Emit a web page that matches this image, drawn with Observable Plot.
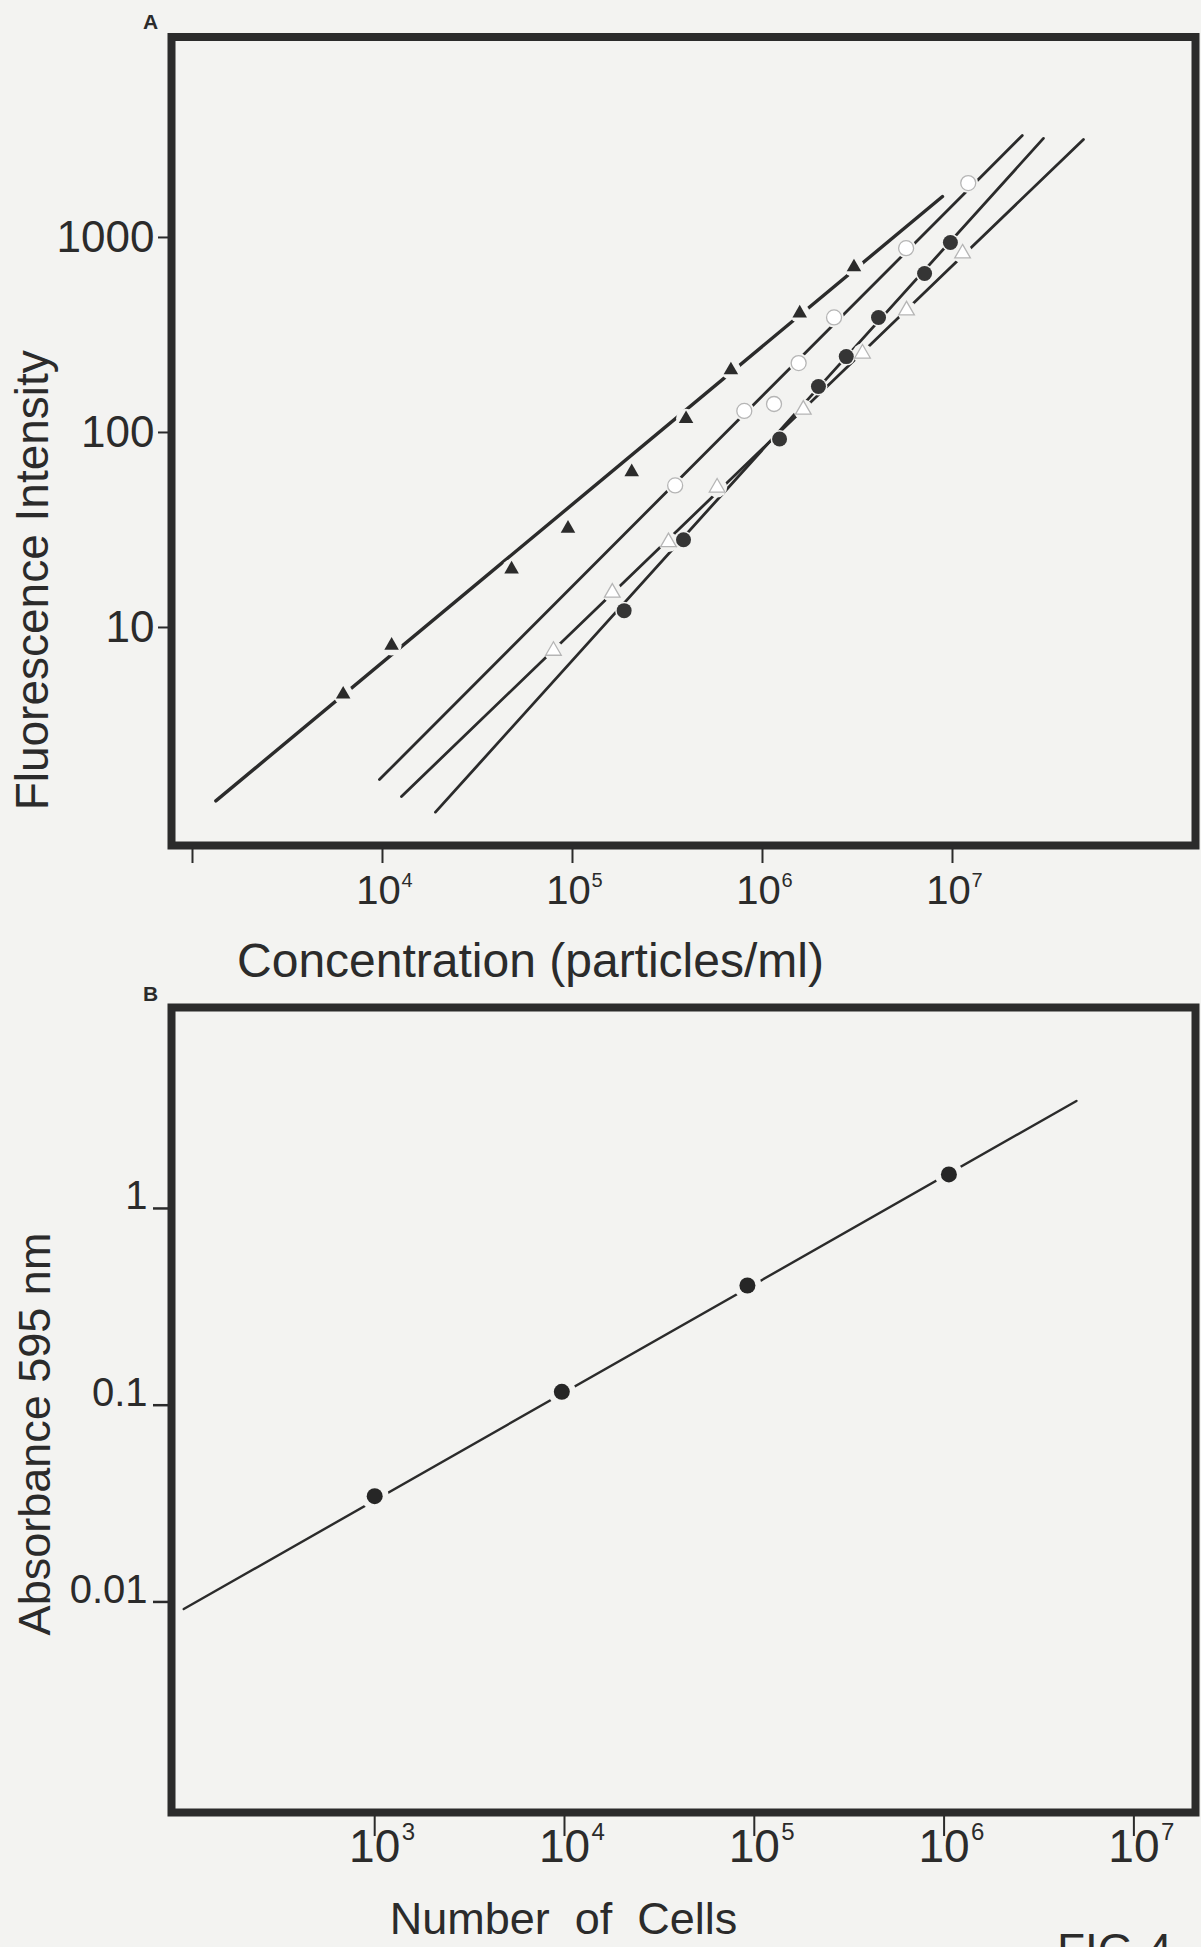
<!DOCTYPE html>
<html><head><meta charset="utf-8">
<script src="https://cdn.jsdelivr.net/npm/d3@7"></script>
<script src="https://cdn.jsdelivr.net/npm/@observablehq/plot@0.6"></script>
<style>
html,body{margin:0;padding:0;background:#f3f3f1;}
#wrap{position:relative;width:1201px;height:1947px;overflow:hidden;}
#a,#b{position:absolute;left:0;}
#a{top:0px;}
#b{top:960px;}
svg{display:block;}
</style></head><body><div id="wrap"><div id="a"></div><div id="b"></div></div>
<script>
const FONT = "'Liberation Sans', Arial, Helvetica, sans-serif";
const INK = "#2b2b2b";
const BG = "#f3f3f1";

// ---------- Panel A data (concentration vs fluorescence) ----------
const triX = [6210, 11170, 47800, 94700, 205000, 396000, 682000, 1570000, 3030000];
const triY = [4.54, 8.09, 19.9, 32.2, 62.7, 117.5, 209, 409, 705];
const openCircX = [347000, 802000, 1150000, 1550000, 2380000, 5700000, 12100000];
const openCircY = [53.5, 129, 140, 227, 389, 881, 1900];
const fillCircX = [187000, 384000, 1230000, 1970000, 2760000, 4080000, 7130000, 9750000];
const fillCircY = [12.2, 28.2, 92.6, 172, 245, 389, 653, 943];
const openTriX = [79400, 162000, 320000, 577000, 1640000, 3360000, 5730000, 11300000];
const openTriY = [7.6, 15.1, 27.4, 52.2, 131, 254, 423, 828];
// fitted lines (start, end)
const fitTriX = [1327, 8860000], fitTriY = [1.29, 1622];
const fitOpenCircX = [9640, 23300000], fitOpenCircY = [1.66, 3334];
const fitOpenTriX = [12590, 48900000], fitOpenTriY = [1.36, 3184];
const fitFillCircX = [19000, 30100000], fitFillCircY = [1.13, 3222];

const xTicksA = [1e3, 1e4, 1e5, 1e6, 1e7];
const xLabelsA = [1e4, 1e5, 1e6, 1e7];
const yTicksA = [10, 100, 1000];
const yTickLabelsA = ["10", "100", "1000"];

// ---------- Panel B data (cells vs absorbance) ----------
const cellsX = [1000, 9680, 92000, 1060000];
const absY = [0.0345, 0.117, 0.406, 1.49];
const fitCellsX = [98.6, 4980000], fitAbsY = [0.0092, 3.52];

const xTicksB = [1e3, 1e4, 1e5, 1e6, 1e7];
const yTicksB = [0.01, 0.1, 1];
const yTickLabelsB = ["0.01", "0.1", "1"];

const exp10 = d => String(Math.round(Math.log10(d)));
const n = a => ({length: a.length});

// ---------- Panel A ----------
const hA = 1000;
const frameA = {top: 36.5, bottom: 845, left: 171, right: 1195};
const plotA = Plot.plot({
  width: 1201, height: hA,
  marginTop: frameA.top, marginBottom: hA - frameA.bottom,
  marginLeft: frameA.left, marginRight: 1201 - frameA.right,
  style: {background: "transparent", fontFamily: FONT, color: INK},
  x: {type: "log", domain: [10 ** 2.8895, 10 ** 8.279], axis: null},
  y: {type: "log", domain: [10 ** -0.118, 10 ** 4.028], axis: null},
  marks: [
    Plot.axisX(xTicksA, {anchor: "bottom", tickSize: 18, stroke: INK, strokeWidth: 2, fill: "none", label: null}),
    Plot.axisY(yTicksA, {anchor: "left", tickSize: 13, stroke: INK, strokeWidth: 2, fill: "none", label: null}),
    Plot.line(n(fitTriX), {x: fitTriX, y: fitTriY, stroke: INK, strokeWidth: 3.4}),
    Plot.line(n(fitOpenCircX), {x: fitOpenCircX, y: fitOpenCircY, stroke: INK, strokeWidth: 2.8}),
    Plot.line(n(fitOpenTriX), {x: fitOpenTriX, y: fitOpenTriY, stroke: INK, strokeWidth: 2.8}),
    Plot.line(n(fitFillCircX), {x: fitFillCircX, y: fitFillCircY, stroke: INK, strokeWidth: 2.8}),
    // gaps in the lines around the symbols
    Plot.dot(n(triX), {x: triX, y: triY, r: 10, fill: BG}),
    Plot.dot(n(openCircX), {x: openCircX, y: openCircY, r: 10, fill: BG}),
    Plot.dot(n(openTriX), {x: openTriX, y: openTriY, r: 10, fill: BG}),
    Plot.dot(n(fillCircX), {x: fillCircX, y: fillCircY, r: 9, fill: BG}),
    // symbols
    Plot.dot(n(triX), {x: triX, y: triY, symbol: "triangle", r: 5.4, fill: INK}),
    Plot.dot(n(openCircX), {x: openCircX, y: openCircY, symbol: "circle", r: 7.5, fill: "#ffffff", stroke: "#b5b5b5", strokeWidth: 1.3}),
    Plot.dot(n(openTriX), {x: openTriX, y: openTriY, symbol: "triangle", r: 5.8, fill: "#ffffff", stroke: "#b5b5b5", strokeWidth: 1.3}),
    Plot.dot(n(fillCircX), {x: fillCircX, y: fillCircY, symbol: "circle", r: 7.5, fill: "#353535"}),
    Plot.frame({stroke: INK, strokeWidth: 8}),
    // tick labels
    Plot.text(yTicksA, {y: d => d, text: yTickLabelsA, frameAnchor: "left", dx: -17, textAnchor: "end", lineAnchor: "middle", fontSize: 44, fill: INK}),
    Plot.text(xLabelsA, {x: d => d, text: () => "10", frameAnchor: "bottom", dx: -4, dy: 30, textAnchor: "middle", lineAnchor: "top", fontSize: 40, fill: INK}),
    Plot.text(xLabelsA, {x: d => d, text: exp10, frameAnchor: "bottom", dx: 19, dy: 27, lineAnchor: "top", textAnchor: "start", fontSize: 20, fill: INK}),
    // titles
    Plot.text(["Concentration (particles/ml)"], {frameAnchor: "bottom", dx: -153, dy: 97, textAnchor: "middle", lineAnchor: "top", fontSize: 48, fill: INK}),
    Plot.text(["Fluorescence Intensity"], {frameAnchor: "left", rotate: -90, dx: -138, dy: 139, textAnchor: "middle", lineAnchor: "middle", fontSize: 46, fill: INK}),
    Plot.text(["A"], {frameAnchor: "top-left", dx: -21, dy: -14.5, textAnchor: "middle", lineAnchor: "middle", fontSize: 21, fontWeight: "bold", fill: INK})
  ]
});
document.getElementById("a").appendChild(plotA);

// ---------- Panel B ----------
const topB = 960, hB = 1947 - topB;
const frameB = {top: 1007 - topB, bottom: 1812 - topB, left: 171, right: 1195};
const plotB = Plot.plot({
  width: 1201, height: hB,
  marginTop: frameB.top, marginBottom: hB - frameB.bottom,
  marginLeft: frameB.left, marginRight: 1201 - frameB.right,
  style: {background: "transparent", fontFamily: FONT, color: INK},
  x: {type: "log", domain: [10 ** 1.9294, 10 ** 7.3246], axis: null},
  y: {type: "log", domain: [10 ** -3.0702, 10 ** 1.0214], axis: null},
  marks: [
    Plot.axisX(xTicksB, {anchor: "bottom", tickSize: 24, stroke: INK, strokeWidth: 2, fill: "none", label: null}),
    Plot.axisY(yTicksB, {anchor: "left", tickSize: 18, stroke: INK, strokeWidth: 2.5, fill: "none", label: null}),
    Plot.line(n(fitCellsX), {x: fitCellsX, y: fitAbsY, stroke: INK, strokeWidth: 2.4}),
    Plot.dot(n(cellsX), {x: cellsX, y: absY, r: 14, fill: BG}),
    Plot.dot(n(cellsX), {x: cellsX, y: absY, r: 8, fill: "#262626"}),
    Plot.frame({stroke: INK, strokeWidth: 8}),
    Plot.text(yTicksB, {y: d => d, text: yTickLabelsB, frameAnchor: "left", dx: -24, dy: -12, textAnchor: "end", lineAnchor: "middle", fontSize: 40, fill: INK}),
    Plot.text(xTicksB, {x: d => d, text: () => "10", frameAnchor: "bottom", dx: 0, dy: 17, textAnchor: "middle", lineAnchor: "top", fontSize: 46, fill: INK}),
    Plot.text(xTicksB, {x: d => d, text: exp10, frameAnchor: "bottom", dx: 27, dy: 10, lineAnchor: "top", textAnchor: "start", fontSize: 24, fill: INK}),
    Plot.text(["Number\u00a0 of\u00a0 Cells"], {frameAnchor: "bottom", dx: -120, dy: 90, textAnchor: "middle", lineAnchor: "top", fontSize: 45, fill: INK}),
    Plot.text(["Absorbance 595 nm"], {frameAnchor: "left", rotate: -90, dx: -136, dy: 24, textAnchor: "middle", lineAnchor: "middle", fontSize: 45, fill: INK}),
    Plot.text(["B"], {frameAnchor: "top-left", dx: -21, dy: -13, textAnchor: "middle", lineAnchor: "middle", fontSize: 21, fontWeight: "bold", fill: INK}),
    Plot.text(["FIG.4"], {frameAnchor: "bottom", dx: 431, dy: 121, textAnchor: "middle", lineAnchor: "top", fontSize: 46, fill: INK})
  ]
});
document.getElementById("b").appendChild(plotB);
</script></body></html>
